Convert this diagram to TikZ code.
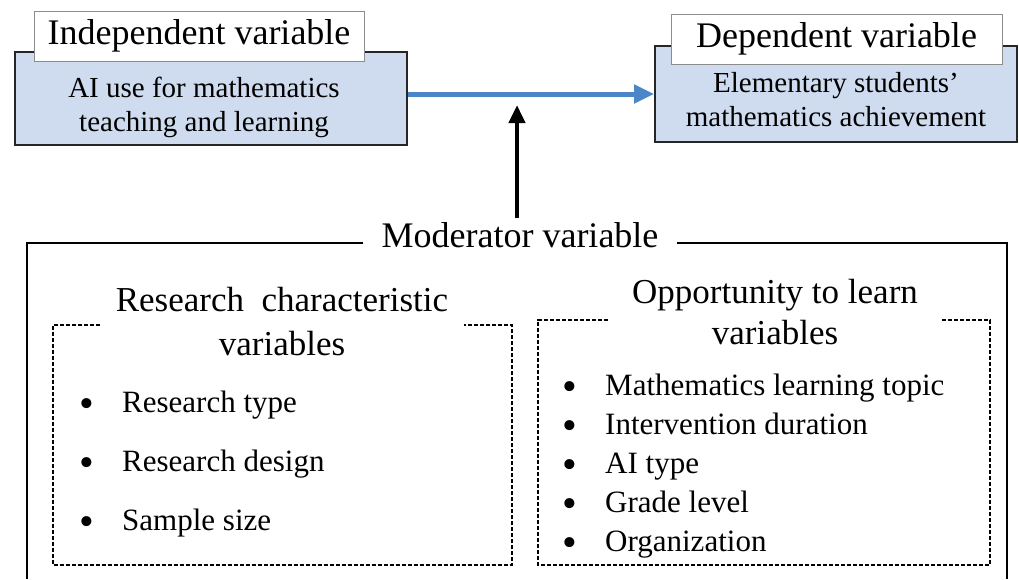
\documentclass[tikz,border=0pt]{standalone}
\usepackage{fontspec}
\setmainfont{Liberation Serif}
\usetikzlibrary{arrows.meta,positioning}

\definecolor{boxblue}{RGB}{207,219,238}
\definecolor{flowblue}{RGB}{74,134,200}

\tikzset{
  varbox/.style={draw=black!85, line width=1.8pt, fill=boxblue},
  tagbox/.style={draw=black!45, line width=1pt, fill=white, inner sep=0pt,
                 font=\fontsize{36}{40}\selectfont},
  boxtext/.style={align=center, font=\fontsize{29}{34}\selectfont},
  grouptitle/.style={align=center, inner sep=0pt},
  dashbox/.style={line width=1.3pt, dash pattern=on 4pt off 2pt},
  listitem/.style={anchor=base west, inner sep=0pt, font=\fontsize{31}{36}\selectfont},
  bulletdot/.style={inner sep=0pt, font=\fontsize{42}{46}\selectfont},
}

\begin{document}
\begin{tikzpicture}[x=1pt, y=-1pt]
  \useasboundingbox (0,0) rectangle (1019,579);

  % independent and dependent variable
  \node[varbox, minimum width=392pt, minimum height=93pt] (indep) at (211,98.5) {};
  \node[boxtext] (indeptext) at (204,107) {AI use for mathematics\\teaching and learning};
  \node[tagbox, minimum width=330pt, minimum height=50pt] (indeptag) at (199,36) {Independent variable};

  \node[varbox, minimum width=362pt, minimum height=96pt] (dep) at (836,94) {};
  \node[boxtext] (deptext) at (836,100) {Elementary students’\\mathematics achievement};
  \node[tagbox, minimum width=331pt, minimum height=50pt] (deptag) at (836.5,39) {Dependent variable};

  \draw[-{Triangle[length=20pt,width=18pt]}, flowblue, line width=5pt]
    (indep.east |- dep.west) -- (dep.west);

  % moderator frame, open at the bottom
  \node[font=\fontsize{36}{40}\selectfont, inner xsep=18pt, inner ysep=4pt]
    (modtitle) at (520,235) {Moderator variable};
  \coordinate (hit) at (517,105);
  \coordinate (frameleft) at (27,243);
  \coordinate (frameright) at (1007,243);
  \draw[-{Triangle[length=18pt,width=16pt]}, line width=4.5pt]
    (modtitle.north -| hit) -- (hit);
  \draw[line width=1.5pt] (modtitle.west |- frameleft) -- (frameleft) -- (27,579);
  \draw[line width=1.5pt] (modtitle.east |- frameright) -- (frameright) -- (1007,579);

  % research characteristic variables
  \node[grouptitle, minimum width=363pt, font=\fontsize{35}{44}\selectfont]
    (rctitle) at (282,322) {Research\ \ characteristic\\variables};
  \draw[dashbox] (rctitle.west |- 0,325) -- (53,325) -- (53,565) -- (512,565)
    -- (512,325) -- (rctitle.east |- 0,325);
  \foreach \txt [count=\i] in {Research type, Research design, Sample size} {
    \node[bulletdot] (rcdot\i) at (87,349+59*\i) {\textbullet};
    \node[listitem] (rcitem\i) at (122,353.5+59*\i) {\txt};
  }

  % opportunity to learn variables
  \node[grouptitle, minimum width=334pt, font=\fontsize{35}{41}\selectfont]
    (otltitle) at (775,312) {Opportunity to learn\\variables};
  \draw[dashbox] (otltitle.west |- 0,320) -- (538,320) -- (538,565) -- (990,565)
    -- (990,320) -- (otltitle.east |- 0,320);
  \foreach \txt [count=\i] in {Mathematics learning topic, Intervention duration,
                               AI type, Grade level, Organization} {
    \node[bulletdot] (otldot\i) at (570,352+39*\i) {\textbullet};
    \node[listitem] (otlitem\i) at (605,356.5+39*\i) {\txt};
  }
\end{tikzpicture}
\end{document}
